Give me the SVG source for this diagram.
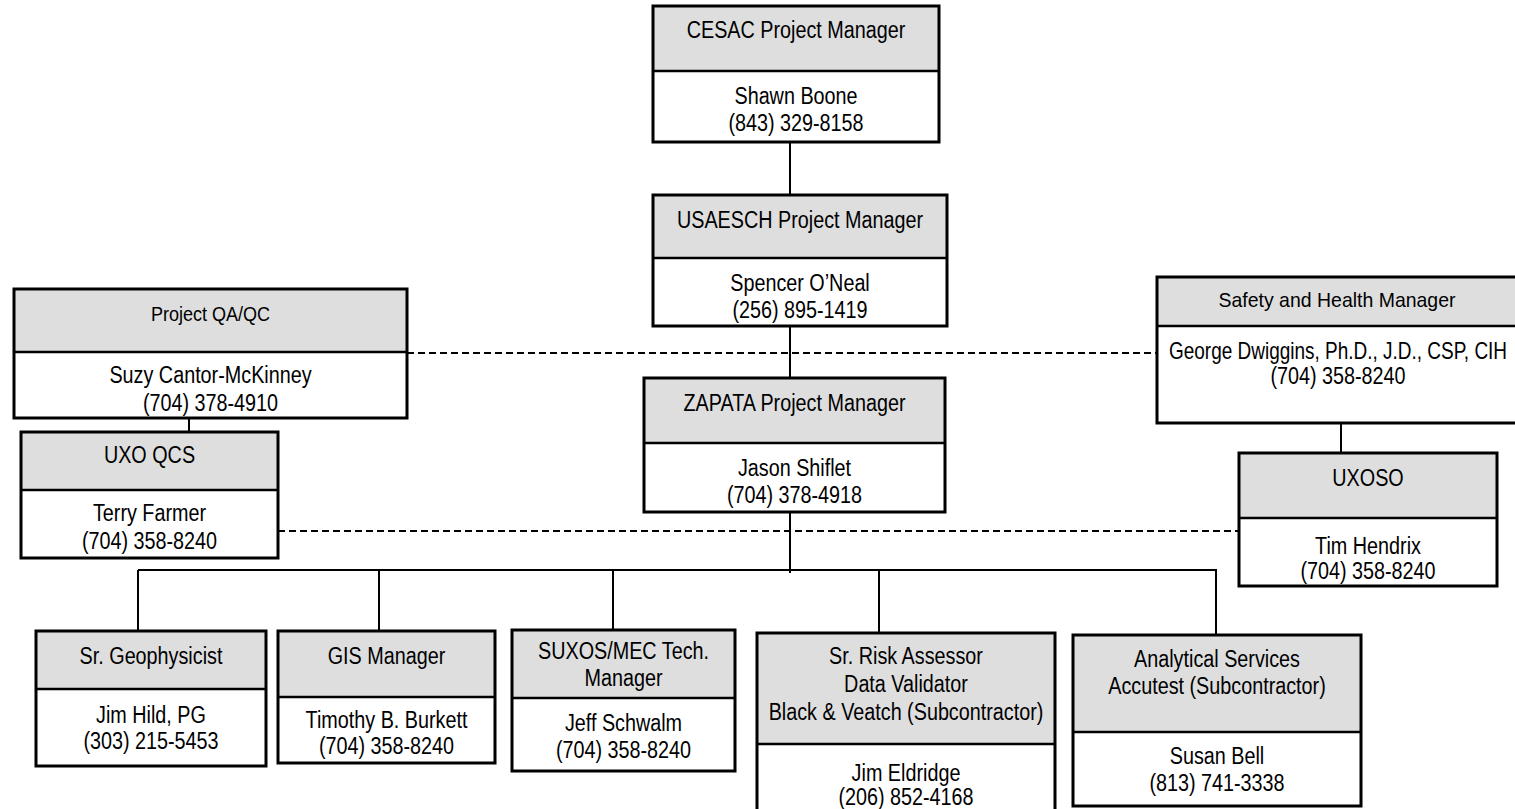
<svg xmlns="http://www.w3.org/2000/svg" width="1515" height="809" viewBox="0 0 1515 809">
<style>
.bg{fill:#fff;stroke:none}
.hd{fill:#dedede;stroke:none}
.dv{stroke:#000;stroke-width:2.5}
.ol{fill:none;stroke:#000;stroke-width:3}
.t{font-family:"Liberation Sans",Arial,Helvetica,sans-serif;font-size:23px;text-anchor:middle;fill:#000}
.s{font-size:20.5px}
.st{text-anchor:start}
.c{stroke:#000;stroke-width:2;fill:none}
.d{stroke:#000;stroke-width:2;fill:none;stroke-dasharray:7 4}
</style>
<rect x="0" y="0" width="1515" height="809" fill="#fff"/>
<g id="connectors">
<line class="c" x1="790" y1="142" x2="790" y2="195"/>
<line class="c" x1="790" y1="326" x2="790" y2="378"/>
<line class="c" x1="790" y1="512" x2="790" y2="573"/>
<line class="c" x1="138" y1="570" x2="1217" y2="570"/>
<line class="c" x1="138" y1="570" x2="138" y2="631"/>
<line class="c" x1="379" y1="570" x2="379" y2="631"/>
<line class="c" x1="613" y1="570" x2="613" y2="630"/>
<line class="c" x1="879" y1="570" x2="879" y2="633"/>
<line class="c" x1="1216" y1="570" x2="1216" y2="635"/>
<line class="c" x1="189" y1="418" x2="189" y2="432"/>
<line class="c" x1="1341" y1="423" x2="1341" y2="453"/>
<line class="d" x1="407" y1="353" x2="1157" y2="353"/>
<line class="d" x1="278" y1="531" x2="1239" y2="531"/>
</g>
<g id="cesac">
<rect class="bg" x="653" y="6" width="286" height="136"/>
<rect class="hd" x="653" y="6" width="286" height="65"/>
<line class="dv" x1="653" y1="71" x2="939" y2="71"/>
<rect class="ol" x="653" y="6" width="286" height="136"/>
<text class="t" transform="translate(796,38) scale(0.86,1)">CESAC Project Manager</text>
<text class="t" transform="translate(796,104) scale(0.86,1)">Shawn Boone</text>
<text class="t" transform="translate(796,131) scale(0.86,1)">(843) 329-8158</text>
</g>
<g id="usaesch">
<rect class="bg" x="653" y="195" width="294" height="131"/>
<rect class="hd" x="653" y="195" width="294" height="63"/>
<line class="dv" x1="653" y1="258" x2="947" y2="258"/>
<rect class="ol" x="653" y="195" width="294" height="131"/>
<text class="t" transform="translate(800,228) scale(0.86,1)">USAESCH Project Manager</text>
<text class="t" transform="translate(800,291) scale(0.86,1)">Spencer O’Neal</text>
<text class="t" transform="translate(800,318) scale(0.86,1)">(256) 895-1419</text>
</g>
<g id="zapata">
<rect class="bg" x="644" y="378" width="301" height="134"/>
<rect class="hd" x="644" y="378" width="301" height="65"/>
<line class="dv" x1="644" y1="443" x2="945" y2="443"/>
<rect class="ol" x="644" y="378" width="301" height="134"/>
<text class="t" transform="translate(794.5,411) scale(0.86,1)">ZAPATA Project Manager</text>
<text class="t" transform="translate(794.5,476) scale(0.86,1)">Jason Shiflet</text>
<text class="t" transform="translate(794.5,503) scale(0.86,1)">(704) 378-4918</text>
</g>
<g id="qaqc">
<rect class="bg" x="14" y="289" width="393" height="129"/>
<rect class="hd" x="14" y="289" width="393" height="63"/>
<line class="dv" x1="14" y1="352" x2="407" y2="352"/>
<rect class="ol" x="14" y="289" width="393" height="129"/>
<text class="t s" transform="translate(210.5,321) scale(0.88,1)">Project QA/QC</text>
<text class="t" transform="translate(210.5,383) scale(0.86,1)">Suzy Cantor-McKinney</text>
<text class="t" transform="translate(210.5,411) scale(0.86,1)">(704) 378-4910</text>
</g>
<g id="uxoqcs">
<rect class="bg" x="21" y="432" width="257" height="126"/>
<rect class="hd" x="21" y="432" width="257" height="58"/>
<line class="dv" x1="21" y1="490" x2="278" y2="490"/>
<rect class="ol" x="21" y="432" width="257" height="126"/>
<text class="t" transform="translate(149.5,463) scale(0.86,1)">UXO QCS</text>
<text class="t" transform="translate(149.5,521) scale(0.86,1)">Terry Farmer</text>
<text class="t" transform="translate(149.5,549) scale(0.86,1)">(704) 358-8240</text>
</g>
<g id="safety">
<rect class="bg" x="1157" y="277" width="361" height="146"/>
<rect class="hd" x="1157" y="277" width="361" height="49"/>
<line class="dv" x1="1157" y1="326" x2="1518" y2="326"/>
<rect class="ol" x="1157" y="277" width="361" height="146"/>
<text class="t s" transform="translate(1337,307) scale(0.95,1)">Safety and Health Manager</text>
<text class="t st" transform="translate(1169,359) scale(0.825,1)">George Dwiggins, Ph.D., J.D., CSP, CIH</text>
<text class="t" transform="translate(1338,384) scale(0.86,1)">(704) 358-8240</text>
</g>
<g id="uxoso">
<rect class="bg" x="1239" y="453" width="258" height="133"/>
<rect class="hd" x="1239" y="453" width="258" height="65"/>
<line class="dv" x1="1239" y1="518" x2="1497" y2="518"/>
<rect class="ol" x="1239" y="453" width="258" height="133"/>
<text class="t" transform="translate(1368,486) scale(0.86,1)">UXOSO</text>
<text class="t" transform="translate(1368,554) scale(0.86,1)">Tim Hendrix</text>
<text class="t" transform="translate(1368,579) scale(0.86,1)">(704) 358-8240</text>
</g>
<g id="geophysicist">
<rect class="bg" x="36" y="631" width="230" height="135"/>
<rect class="hd" x="36" y="631" width="230" height="58"/>
<line class="dv" x1="36" y1="689" x2="266" y2="689"/>
<rect class="ol" x="36" y="631" width="230" height="135"/>
<text class="t" transform="translate(151,664) scale(0.86,1)">Sr. Geophysicist</text>
<text class="t" transform="translate(151,723) scale(0.86,1)">Jim Hild, PG</text>
<text class="t" transform="translate(151,749) scale(0.86,1)">(303) 215-5453</text>
</g>
<g id="gis">
<rect class="bg" x="278" y="631" width="217" height="132"/>
<rect class="hd" x="278" y="631" width="217" height="66"/>
<line class="dv" x1="278" y1="697" x2="495" y2="697"/>
<rect class="ol" x="278" y="631" width="217" height="132"/>
<text class="t" transform="translate(386.5,664) scale(0.86,1)">GIS Manager</text>
<text class="t" transform="translate(386.5,728) scale(0.86,1)">Timothy B. Burkett</text>
<text class="t" transform="translate(386.5,754) scale(0.86,1)">(704) 358-8240</text>
</g>
<g id="suxos">
<rect class="bg" x="512" y="630" width="223" height="141"/>
<rect class="hd" x="512" y="630" width="223" height="68"/>
<line class="dv" x1="512" y1="698" x2="735" y2="698"/>
<rect class="ol" x="512" y="630" width="223" height="141"/>
<text class="t" transform="translate(623.5,659) scale(0.86,1)">SUXOS/MEC Tech.</text>
<text class="t" transform="translate(623.5,686) scale(0.86,1)">Manager</text>
<text class="t" transform="translate(623.5,731) scale(0.86,1)">Jeff Schwalm</text>
<text class="t" transform="translate(623.5,758) scale(0.86,1)">(704) 358-8240</text>
</g>
<g id="riskassessor">
<rect class="bg" x="757" y="633" width="298" height="180"/>
<rect class="hd" x="757" y="633" width="298" height="111"/>
<line class="dv" x1="757" y1="744" x2="1055" y2="744"/>
<rect class="ol" x="757" y="633" width="298" height="180"/>
<text class="t" transform="translate(906,664) scale(0.86,1)">Sr. Risk Assessor</text>
<text class="t" transform="translate(906,692) scale(0.86,1)">Data Validator</text>
<text class="t" transform="translate(906,720) scale(0.86,1)">Black &amp; Veatch (Subcontractor)</text>
<text class="t" transform="translate(906,781) scale(0.86,1)">Jim Eldridge</text>
<text class="t" transform="translate(906,805) scale(0.86,1)">(206) 852-4168</text>
</g>
<g id="analytical">
<rect class="bg" x="1073" y="635" width="288" height="171"/>
<rect class="hd" x="1073" y="635" width="288" height="97"/>
<line class="dv" x1="1073" y1="732" x2="1361" y2="732"/>
<rect class="ol" x="1073" y="635" width="288" height="171"/>
<text class="t" transform="translate(1217,667) scale(0.86,1)">Analytical Services</text>
<text class="t" transform="translate(1217,694) scale(0.86,1)">Accutest (Subcontractor)</text>
<text class="t" transform="translate(1217,764) scale(0.86,1)">Susan Bell</text>
<text class="t" transform="translate(1217,791) scale(0.86,1)">(813) 741-3338</text>
</g>
</svg>
